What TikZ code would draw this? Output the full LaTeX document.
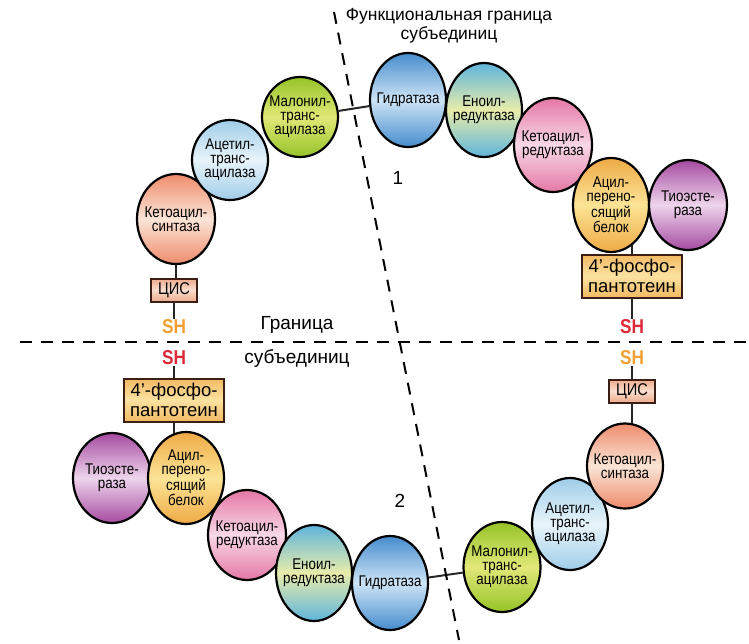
\documentclass[tikz,border=0pt]{standalone}
\usepackage{fontspec}
\setmainfont{Liberation Sans}
\newfontfamily\enzfont{Liberation Sans}[FakeStretch=0.86]
\usetikzlibrary{shapes.geometric,backgrounds}
\definecolor{ksA}{RGB}{238,140,108}\definecolor{ksB}{RGB}{250,228,214}
\definecolor{atA}{RGB}{160,205,232}\definecolor{atB}{RGB}{232,244,250}
\definecolor{mtA}{RGB}{150,195,40}\definecolor{mtB}{RGB}{225,232,120}
\definecolor{gdA}{RGB}{70,140,205}\definecolor{gdB}{RGB}{205,228,246}
\definecolor{erA}{RGB}{95,180,220}\definecolor{erB}{RGB}{232,236,170}
\definecolor{krA}{RGB}{228,120,165}\definecolor{krB}{RGB}{248,215,230}
\definecolor{acA}{RGB}{238,170,70}\definecolor{acB}{RGB}{252,228,150}
\definecolor{teA}{RGB}{165,75,160}\definecolor{teB}{RGB}{238,212,236}
\definecolor{ppA}{RGB}{242,185,100}\definecolor{ppB}{RGB}{252,226,160}
\definecolor{cisA}{RGB}{236,170,140}\definecolor{cisB}{RGB}{250,222,205}
\definecolor{shO}{RGB}{240,160,50}\definecolor{shR}{RGB}{220,40,55}
\definecolor{boxline}{RGB}{60,30,20}
\tikzset{
 enz/.style={ellipse, draw=black, line width=2.2pt, inner sep=0pt,
   minimum width=76pt, minimum height=92pt,
   label={[enztext]center:#1}},
 enztext/.style={align=center, inner sep=0pt, font=\enzfont\fontsize{15.5}{14}\selectfont},
 grad/.style n args={2}{top color=#1, bottom color=#1, middle color=#2},
 pptbox/.style={draw=boxline, line width=2pt, minimum width=100pt, minimum height=43pt,
   inner sep=0pt, align=center, font=\fontsize{18.5}{20}\selectfont, grad={ppA}{ppB}},
 cisbox/.style={draw=boxline, line width=2pt, minimum width=46pt, minimum height=23pt,
   inner sep=0pt, font=\enzfont\fontsize{17}{18}\selectfont, grad={cisA}{cisB}},
 shlab/.style={font=\bfseries\enzfont\fontsize{20}{20}\selectfont, inner sep=1pt},
 link/.style={line width=2pt, draw=black!85},
 border/.style={line width=2pt, dash pattern=on 12pt off 9pt},
 lab/.style={font=\fontsize{19}{20}\selectfont, align=center}
}
\begin{document}
\begin{tikzpicture}[x=1pt,y=-1pt]
\useasboundingbox (0,0) rectangle (749,643);
% upper subunit
\node[enz={Кетоацил-\\синтаза}, grad={ksA}{ksB}, minimum height=90pt, minimum width=78pt] (ks1) at (176,219) {};
\node[enz={Ацетил-\\транс-\\ацилаза}, grad={atA}{atB}, minimum height=80pt] (at1) at (230,160) {};
\node[enz={Малонил-\\транс-\\ацилаза}, grad={mtA}{mtB}, minimum height=80pt] (mt1) at (300,117) {};
\node[enz={Гидратаза}, grad={gdA}{gdB}, minimum height=94pt] (gd1) at (408,100) {};
\node[enz={Еноил-\\редуктаза}, grad={erA}{erB}, minimum height=94pt] (er1) at (484,110) {};
\node[enz={Кетоацил-\\редуктаза}, grad={krA}{krB}, minimum height=94pt, minimum width=78pt] (kr1) at (553,145) {};
\node[enz={Ацил-\\перено-\\сящий\\белок}, grad={acA}{acB}, minimum height=94pt] (ac1) at (611,205) {};
\node[enz={Тиоэсте-\\раза}, grad={teA}{teB}, minimum height=90pt, minimum width=78pt] (te1) at (688,205) {};
\node[pptbox] (pp1) at (632,276) {4'-фосфо-\\пантотеин};
\node[cisbox] (cis1) at (174,290) {ЦИС};
\node[shlab, text=shO] (sho1) at (174,327) {SH};
\node[shlab, text=shR] (shr1) at (632,327) {SH};
% lower subunit
\node[pptbox] (pp2) at (174,400) {4'-фосфо-\\пантотеин};
\node[shlab, text=shR] (shr2) at (174,358) {SH};
\node[enz={Тиоэсте-\\раза}, grad={teA}{teB}, minimum height=90pt, minimum width=78pt] (te2) at (112,478) {};
\node[enz={Ацил-\\перено-\\сящий\\белок}, grad={acA}{acB}, minimum height=92pt] (ac2) at (186,478) {};
\node[enz={Кетоацил-\\редуктаза}, grad={krA}{krB}, minimum height=90pt, minimum width=78pt] (kr2) at (247,535) {};
\node[enz={Еноил-\\редуктаза}, grad={erA}{erB}, minimum height=96pt] (er2) at (314,573) {};
\node[enz={Гидратаза}, grad={gdA}{gdB}, minimum height=94pt] (gd2) at (390,583) {};
\node[enz={Малонил-\\транс-\\ацилаза}, grad={mtA}{mtB}, minimum height=90pt, minimum width=77pt] (mt2) at (502,567) {};
\node[enz={Ацетил-\\транс-\\ацилаза}, grad={atA}{atB}, minimum height=92pt] (at2) at (570,524) {};
\node[enz={Кетоацил-\\синтаза}, grad={ksA}{ksB}, minimum height=85pt] (ks2) at (625,466) {};
\node[cisbox] (cis2) at (632,391) {ЦИС};
\node[shlab, text=shO] (sho2) at (632,358) {SH};
% labels
\node[lab, font=\fontsize{17.5}{19}\selectfont] (flab) at (449,26) {Функциональная граница\\субъединиц};
\node[lab] (g1) at (297,325) {Граница};
\node[lab] (g2) at (297,358) {субъединиц};
\node[lab] (n1) at (398,178) {1};
\node[lab] (n2) at (400,501) {2};
% connectors
\begin{scope}[on background layer]
\draw[link] (ks1.center) -- (ks1.center |- cis1.north);
\draw[link] (cis1.south) -- (sho1.north);
\draw[link] (pp1.north) -- (pp1.north |- ac1.center);
\draw[link] (pp1.south) -- (shr1.north);
\draw[link] (shr2.south) -- (pp2.north);
\draw[link] (pp2.south) -- (pp2.south |- ac2.center);
\draw[link] (sho2.south) -- (cis2.north);
\draw[link] (cis2.south) -- (cis2.south |- ks2.center);
\end{scope}
\draw[link] (mt1) -- (gd1);
\draw[link] (gd2) -- (mt2);
% subunit borders
\coordinate (hA) at (20,342);
\coordinate (hB) at (749,342);
\coordinate (dA) at (334,12);
\coordinate (dB) at (459,640);
\draw[border] (hA) -- (hB);
\draw[border] (dA) -- (dB);
\end{tikzpicture}
\end{document}
